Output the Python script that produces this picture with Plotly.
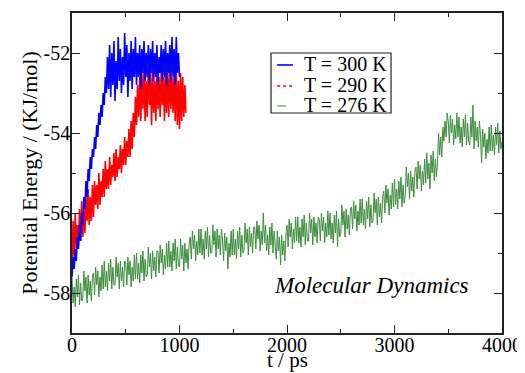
import numpy as np
import plotly.graph_objects as go

# ---- data ----
dt_300 = 10  # ps between samples
E_300 = [
    -57.6, -57.1, -57.4, -56.9, -57.2, -56.6, -56.9, -56.3, -56.7, -56.0,
    -56.3, -55.6, -55.9, -55.2, -55.6, -54.9, -55.2, -54.6, -54.9, -54.4,
    -54.6, -54.1, -54.4, -53.8, -54.1, -53.5, -53.8, -53.3, -53.6, -53.0,
    -53.3, -52.6, -53.0, -52.1, -52.9, -51.8, -53.1, -52.0, -52.8, -51.7,
    -53.2, -52.2, -52.9, -51.6, -52.7, -51.9, -53.0, -52.1, -52.8, -51.5,
    -52.6, -51.8, -53.1, -52.0, -52.7, -51.7, -52.9, -51.9, -52.6, -51.6,
    -52.8, -52.0, -52.6, -51.8, -52.9, -51.9, -52.5, -51.7, -52.7, -52.0,
    -52.6, -51.8, -52.8, -51.9, -52.5, -51.7, -52.7, -52.0, -52.6, -51.8,
    -52.8, -52.1, -52.5, -51.8, -52.7, -51.9, -52.6, -51.7, -52.8, -52.0,
    -52.5, -51.8, -52.7, -51.6, -52.6, -51.9, -52.8, -51.6, -52.5, -52.0,
    -52.6,
]

dt_290 = 10
E_290 = [
    -57.4, -56.2, -57.1, -56.0, -56.9, -56.3, -56.8, -55.9, -56.7, -55.7,
    -56.6, -55.9, -56.5, -55.6, -56.2, -55.4, -56.3, -55.6, -56.2, -55.3,
    -56.1, -55.2, -55.8, -55.3, -55.9, -55.0, -55.8, -55.2, -55.6, -54.9,
    -55.6, -54.7, -55.4, -54.9, -55.4, -54.6, -55.3, -54.8, -55.1, -54.5,
    -55.2, -54.4, -55.1, -54.6, -54.9, -54.3, -55.0, -54.4, -54.8, -54.1,
    -54.8, -54.2, -54.6, -53.9, -54.6, -53.7, -54.4, -53.5, -54.1, -53.1,
    -53.8, -52.8, -53.6, -52.6, -53.7, -52.5, -53.4, -52.4, -53.7, -52.7,
    -53.6, -52.3, -53.3, -52.5, -53.8, -52.4, -53.5, -52.7, -53.7, -52.3,
    -53.4, -52.6, -53.6, -52.4, -53.3, -52.6, -53.7, -52.4, -53.5, -52.5,
    -53.6, -52.3, -53.4, -52.6, -53.5, -52.5, -53.7, -52.4, -53.8, -52.7,
    -53.9, -52.5, -53.7, -52.6, -53.6, -52.8, -53.5,
]

dt_276 = 10
E_276 = [
    -57.60, -58.25, -57.85, -58.35, -57.65, -58.10, -57.55, -58.30, -57.75, -58.20,
    -58.15, -57.45, -57.95, -57.60, -58.25, -57.55, -58.05, -57.70, -58.20, -57.55,
    -57.50, -58.05, -57.35, -57.80, -57.45, -58.10, -57.60, -57.95, -57.30, -57.90,
    -57.20, -57.85, -57.45, -57.95, -57.25, -57.70, -57.15, -57.90, -57.35, -57.80,
    -57.80, -57.10, -57.60, -57.25, -57.90, -57.20, -57.70, -57.35, -57.85, -57.20,
    -57.25, -57.80, -57.10, -57.55, -57.20, -57.85, -57.35, -57.70, -57.05, -57.65,
    -57.00, -57.65, -57.25, -57.75, -57.05, -57.50, -56.95, -57.70, -57.15, -57.60,
    -57.55, -56.85, -57.35, -57.00, -57.65, -56.95, -57.45, -57.10, -57.60, -56.95,
    -56.95, -57.50, -56.80, -57.25, -56.90, -57.55, -57.05, -57.40, -56.75, -57.35,
    -56.70, -57.35, -56.95, -57.45, -56.75, -57.20, -56.65, -57.40, -56.85, -57.30,
    -57.35, -56.65, -57.15, -56.80, -57.45, -56.75, -57.25, -56.90, -57.40, -56.75,
    -56.60, -57.15, -56.45, -56.90, -56.55, -57.20, -56.70, -57.05, -56.40, -57.00,
    -56.40, -57.05, -56.65, -57.15, -56.45, -56.90, -56.35, -57.10, -56.55, -57.00,
    -57.00, -56.30, -56.80, -56.45, -57.10, -56.40, -56.90, -56.55, -57.05, -56.40,
    -56.65, -57.20, -56.50, -56.95, -56.60, -57.40, -56.75, -57.10, -56.45, -57.05,
    -56.40, -57.05, -56.65, -57.15, -56.45, -56.90, -56.35, -57.10, -56.55, -57.00,
    -56.95, -56.25, -56.75, -56.40, -57.05, -56.35, -56.85, -56.50, -57.00, -56.35,
    -56.35, -56.90, -56.20, -56.65, -56.30, -56.95, -56.45, -56.80, -56.00, -56.75,
    -56.30, -56.95, -56.55, -57.05, -56.35, -56.80, -56.25, -57.00, -56.45, -56.90,
    -57.15, -56.45, -56.95, -56.60, -57.30, -56.55, -57.05, -56.70, -57.20, -56.55,
    -56.30, -56.85, -56.15, -56.60, -56.25, -56.90, -56.40, -56.75, -56.10, -56.70,
    -56.10, -56.75, -56.35, -56.85, -56.15, -56.60, -56.05, -56.80, -56.25, -56.70,
    -56.70, -56.00, -56.50, -56.15, -56.80, -56.10, -56.60, -56.25, -56.75, -56.10,
    -56.15, -56.70, -56.00, -56.45, -56.10, -56.75, -56.25, -56.60, -55.95, -56.55,
    -56.00, -56.65, -56.25, -56.75, -56.05, -56.50, -55.95, -56.85, -56.15, -56.60,
    -56.50, -55.80, -56.30, -55.95, -56.60, -55.90, -56.40, -56.05, -56.55, -55.90,
    -55.85, -56.40, -55.70, -56.15, -55.80, -56.45, -55.95, -56.30, -55.65, -56.25,
    -55.65, -56.30, -55.90, -56.40, -55.70, -56.15, -55.60, -56.35, -55.80, -56.25,
    -56.20, -55.50, -56.00, -55.65, -56.30, -55.60, -56.10, -55.75, -56.25, -55.60,
    -55.45, -56.00, -55.30, -55.75, -55.40, -56.05, -55.55, -55.90, -55.25, -55.85,
    -55.15, -55.80, -55.40, -55.90, -55.20, -55.65, -55.10, -55.85, -55.30, -55.75,
    -55.55, -54.85, -55.35, -55.00, -55.65, -54.95, -55.45, -55.10, -55.60, -54.95,
    -54.85, -55.40, -54.70, -55.15, -54.80, -55.45, -54.95, -55.30, -54.65, -55.25,
    -54.50, -55.15, -54.75, -55.40, -54.55, -55.00, -54.45, -55.20, -54.65, -55.10,
    -54.75, -54.00, -54.55, -54.10, -54.60, -53.85, -54.20, -53.70, -54.10, -53.50,
    -53.70, -54.25, -53.55, -54.00, -53.65, -54.30, -53.80, -54.15, -53.50, -54.10,
    -53.60, -54.25, -53.85, -54.35, -53.65, -54.10, -53.55, -54.30, -53.75, -54.20,
    -54.30, -53.60, -54.10, -53.30, -54.40, -53.70, -54.20, -53.85, -54.35, -53.70,
    -54.05, -54.75, -53.90, -54.35, -54.00, -54.65, -54.15, -54.50, -53.85, -54.45,
    -53.80, -54.45, -54.05, -54.55, -53.85, -54.30, -53.75, -54.50, -53.95, -54.40,
    -54.20,
]

labels = ["T = 300 K", "T = 290 K", "T = 276 K"]
colors = ["#0000ff", "#ff0000", "#3c8c3c"]
dashes = ["solid", "dot", "dash"]
x_ticks = [0, 1000, 2000, 3000, 4000]
y_ticks = [-58, -56, -54, -52]
y_ticktext = ["-58", "-56", "-54", "-52"]
x_title = "t / ps"
y_title = "Potential Energy / (KJ/mol)"

t_300 = np.arange(len(E_300)) * dt_300
t_290 = np.arange(len(E_290)) * dt_290
t_276 = np.arange(len(E_276)) * dt_276

FONT = "Liberation Serif"
INK = "#222222"

fig = go.Figure()
fig.add_trace(go.Scatter(x=t_276, y=E_276, mode="lines", name=labels[2],
                         line=dict(color=colors[2], width=1), showlegend=False))
fig.add_trace(go.Scatter(x=t_290, y=E_290, mode="lines", name=labels[1],
                         line=dict(color=colors[1], width=1.6), showlegend=False))
fig.add_trace(go.Scatter(x=t_300, y=E_300, mode="lines", name=labels[0],
                         line=dict(color=colors[0], width=1.6), showlegend=False))

axis_common = dict(
    showline=True, linecolor=INK, linewidth=1.5, mirror="allticks",
    ticks="inside", ticklen=8, tickwidth=1, tickcolor=INK,
    showgrid=False, zeroline=False, automargin=False,
    tickfont=dict(family=FONT, size=20, color="black"),
)

# legend box drawn in paper coordinates (plot domain)
box = dict(x0=0.4628, x1=0.7419, y0=0.6875, y1=0.875)
row_y = [0.8406, 0.7750, 0.7125]
shapes = [dict(type="rect", xref="paper", yref="paper", line=dict(color=INK, width=1.2),
               fillcolor="white", layer="above", **box)]
annotations = []
for lab, col, dsh, ry in zip(labels, colors, dashes, row_y):
    shapes.append(dict(type="line", xref="paper", yref="paper",
                       x0=0.477, x1=0.514, y0=ry - 0.003, y1=ry - 0.003,
                       line=dict(color=col, width=1.6 if dsh != "dash" else 1, dash=dsh),
                       layer="above"))
    annotations.append(dict(x=0.534, y=ry, xref="paper", yref="paper", text=lab,
                            showarrow=False, xanchor="left", yanchor="middle",
                            font=dict(family=FONT, size=20, color="black")))

annotations.append(dict(
    x=2790, y=-57.8, xref="x", yref="y", showarrow=False,
    text="<i>Molecular Dynamics</i>",
    font=dict(family=FONT, size=23, color="black"),
))
# x-axis title (placed just under the tick labels, as in the reference)
annotations.append(dict(
    x=0.50, y=0, xref="paper", yref="paper", showarrow=False,
    xanchor="center", yanchor="middle", yshift=-27, borderpad=0,
    text=x_title, font=dict(family=FONT, size=21, color="black"),
))

# page body has an 8px margin, so the figure is sized/placed to compensate
fig.update_layout(
    width=517, height=365,
    margin=dict(l=64, r=23, t=5, b=40),
    paper_bgcolor="white", plot_bgcolor="white",
    font=dict(family=FONT, color="black"),
    showlegend=False,
    xaxis=dict(
        range=[0, 4000], tickvals=x_ticks, ticklabelstandoff=-7,
        minor=dict(dtick=500, ticks="inside", ticklen=4, tickcolor=INK),
        **axis_common,
    ),
    yaxis=dict(
        range=[-59, -51], tickvals=y_ticks, ticktext=y_ticktext, ticklabelstandoff=-4,
        minor=dict(dtick=1, ticks="inside", ticklen=4, tickcolor=INK),
        title=dict(text=y_title, font=dict(family=FONT, size=22), standoff=0),
        **axis_common,
    ),
    shapes=shapes,
    annotations=annotations,
)

fig.write_html("out.html")
